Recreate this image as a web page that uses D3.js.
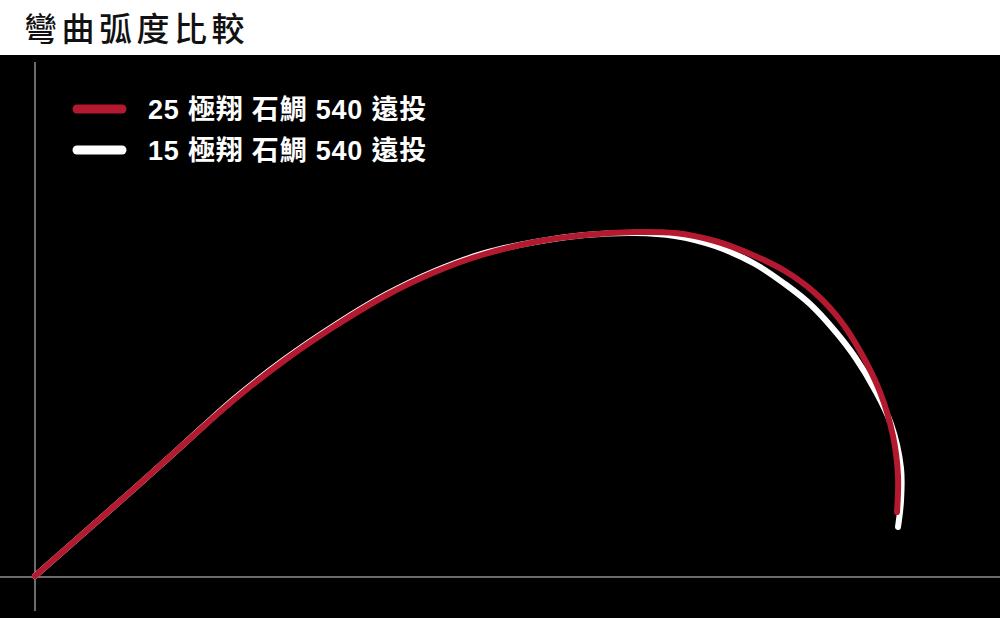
<!DOCTYPE html>
<html>
<head>
<meta charset="utf-8">
<script src="https://cdn.jsdelivr.net/npm/d3@7"></script>
<style>
  body { margin: 0; background: #000; }
  .title { font-family: "Noto Sans CJK TC", sans-serif; font-weight: 500; }
  .legend-text { font-family: "Liberation Sans", "Noto Sans CJK TC", sans-serif; font-weight: 700; fill: #fff; }
</style>
</head>
<body>
<div id="wrapper"></div>
<script>
// Data: rod tip offset from the butt (x = along, y = up)
const seriesNames = ["25 極翔 石鯛 540 遠投", "15 極翔 石鯛 540 遠投"]
const seriesColors = ["#b3192f", "#ffffff"]

const rod25X = [0, 50, 100, 150, 200, 250, 300, 350, 400, 450, 500, 550, 600, 640, 680, 720, 750, 780, 805, 825, 845, 858, 863, 862]
const rod25Y = [0, 44, 88, 133, 177, 216, 250, 280, 304, 322, 334, 341, 344, 343, 335, 320, 305, 283, 256, 225, 184, 140, 100, 64]

const rod15X = [0, 50, 100, 150, 200, 250, 300, 350, 400, 450, 500, 550, 600, 640, 680, 720, 750, 775, 800, 820, 840, 856, 866, 866, 863]
const rod15Y = [0, 44, 88, 133, 178, 217, 251, 281, 305, 323, 334, 341, 343, 340, 330, 312, 292, 272, 245, 219, 186, 152, 108, 75, 49]

const titleText = "彎曲弧度比較"

function drawChart() {
  const dimensions = {
    width: 1000,
    height: 618,
    headerHeight: 55,
  }

  const wrapper = d3.select("#wrapper")
    .append("svg")
      .attr("width", dimensions.width)
      .attr("height", dimensions.height)

  // background
  wrapper.append("rect")
    .attr("width", dimensions.width)
    .attr("height", dimensions.height)
    .attr("fill", "#000")
  wrapper.append("rect")
    .attr("width", dimensions.width)
    .attr("height", dimensions.headerHeight)
    .attr("fill", "#fff")

  wrapper.append("text")
    .attr("class", "title")
    .attr("x", 24)
    .attr("y", 41)
    .attr("font-size", 33)
    .attr("letter-spacing", 4.5)
    .attr("fill", "#111")
    .text(titleText)

  // scales
  const xScale = d3.scaleLinear()
    .domain([0, 965])
    .range([35, 1000])
  const yScale = d3.scaleLinear()
    .domain([0, 515])
    .range([576, 61])

  // axes
  const axisGroup = wrapper.append("g")
    .attr("stroke", "#6b6b6b")
    .attr("stroke-width", 2)
  axisGroup.append("line")
    .attr("x1", xScale(-35))
    .attr("x2", xScale(965))
    .attr("y1", yScale(0) + 1)
    .attr("y2", yScale(0) + 1)
  axisGroup.append("line")
    .attr("x1", xScale(0))
    .attr("x2", xScale(0))
    .attr("y1", yScale(-35))
    .attr("y2", yScale(514))

  const series = [
    { name: seriesNames[1], color: seriesColors[1], points: rod15X.map((x, i) => [x, rod15Y[i]]) },
    { name: seriesNames[0], color: seriesColors[0], points: rod25X.map((x, i) => [x, rod25Y[i]]) },
  ]

  const lineGenerator = d3.line()
    .x(d => xScale(d[0]))
    .y(d => yScale(d[1]))
    .curve(d3.curveCatmullRom.alpha(0.5))

  wrapper.append("g")
    .selectAll(".rod-path")
    .data(series)
    .enter().append("path")
      .attr("class", "rod-path")
      .attr("d", d => lineGenerator(d.points))
      .attr("fill", "none")
      .attr("stroke", d => d.color)
      .attr("stroke-width", 6)
      .attr("stroke-linecap", "round")
      .attr("stroke-linejoin", "round")

  // legend
  const legendGroup = wrapper.append("g")
    .attr("transform", "translate(77, 109)")
  const legendItems = legendGroup.selectAll(".legend-item")
    .data(seriesNames)
    .enter().append("g")
      .attr("class", "legend-item")
      .attr("transform", (d, i) => `translate(0, ${i * 41})`)
  legendItems.append("line")
    .attr("x1", 0)
    .attr("x2", 45)
    .attr("stroke", (d, i) => seriesColors[i])
    .attr("stroke-width", 9)
    .attr("stroke-linecap", "round")
  legendItems.append("text")
    .attr("class", "legend-text")
    .attr("x", 71)
    .attr("y", 10)
    .attr("font-size", 27)
    .attr("letter-spacing", 0.8)
    .text(d => d)
}

drawChart()
</script>
</body>
</html>
